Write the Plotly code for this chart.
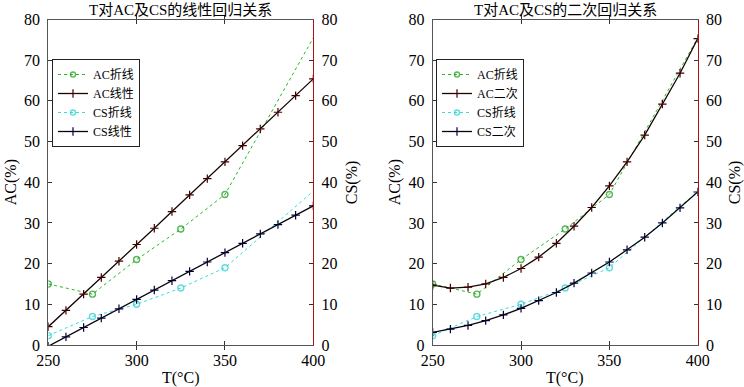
import plotly.graph_objects as go

# ---- data ----
T_obs = [250, 275, 300, 325, 350, 400]
AC_obs = [15.0, 12.5, 21.0, 28.5, 37.0, 75.5]
CS_obs = [2.3, 7.0, 10.0, 14.0, 19.0, 37.8]

T_fit = [250, 260, 270, 280, 290, 300, 310, 320, 330, 340, 350, 360, 370, 380, 390, 400]
AC_lin = [4.5, 8.5, 12.5, 16.6, 20.6, 24.7, 28.7, 32.8, 36.9, 40.9, 45.0, 49.0, 53.1, 57.2, 61.3, 65.4]
CS_lin = [-0.3, 2.0, 4.3, 6.6, 8.9, 11.2, 13.5, 15.8, 18.1, 20.4, 22.7, 25.0, 27.3, 29.6, 31.9, 34.2]
AC_quad = [14.7, 14.0, 14.2, 15.0, 16.6, 18.8, 21.6, 25.0, 29.2, 33.8, 39.1, 45.0, 51.6, 59.2, 66.8, 75.3]
CS_quad = [3.1, 3.9, 4.8, 6.0, 7.4, 9.0, 10.9, 12.9, 15.2, 17.7, 20.4, 23.4, 26.5, 30.0, 33.7, 37.6]

titles = ["T对AC及CS的线性回归关系", "T对AC及CS的二次回归关系"]
legend_names = [["AC折线", "AC线性", "CS折线", "CS线性"],
                ["AC折线", "AC二次", "CS折线", "CS二次"]]
x_ticks = [250, 300, 350, 400]
y_ticks = [0, 10, 20, 30, 40, 50, 60, 70, 80]

FONT = "Liberation Serif, Times New Roman, Noto Sans CJK SC, serif"
W, H = 744, 387

fig = go.Figure()

x_px = [(48.3, 313.3), (432.7, 697.7)]
y_bot, y_top = 345.0, 19.5
ydom = [1 - y_bot / H, 1 - y_top / H]

fits = [(AC_lin, CS_lin), (AC_quad, CS_quad)]
obs_marker_sizes = [6, 6, 6, 6, 6, 0]

for i in range(2):
    xa = "x" if i == 0 else "x2"
    ya = "y" if i == 0 else "y3"
    leg = "legend" if i == 0 else "legend2"
    names = legend_names[i]
    ac_fit, cs_fit = fits[i]
    fig.add_trace(go.Scatter(x=T_obs, y=AC_obs, xaxis=xa, yaxis=ya, legend=leg,
                             name=names[0], mode="lines+markers",
                             line=dict(color="#22bb22", dash="dot", width=1),
                             marker=dict(symbol="circle-open", size=obs_marker_sizes,
                                         color="#119911", line=dict(width=1.4))))
    fig.add_trace(go.Scatter(x=T_fit, y=ac_fit, xaxis=xa, yaxis=ya, legend=leg,
                             name=names[1], mode="lines+markers",
                             line=dict(color="#1a0505", width=1.3),
                             marker=dict(symbol="cross-thin", size=6,
                                         line=dict(width=1.2, color="#400000"))))
    fig.add_trace(go.Scatter(x=T_obs, y=CS_obs, xaxis=xa, yaxis=ya, legend=leg,
                             name=names[2], mode="lines+markers",
                             line=dict(color="#33dddd", dash="dot", width=1),
                             marker=dict(symbol="circle-open", size=obs_marker_sizes,
                                         color="#22cccc", line=dict(width=1.4))))
    fig.add_trace(go.Scatter(x=T_fit, y=cs_fit, xaxis=xa, yaxis=ya, legend=leg,
                             name=names[3], mode="lines+markers",
                             line=dict(color="#050510", width=1.3),
                             marker=dict(symbol="cross-thin", size=6,
                                         line=dict(width=1.2, color="#000030"))))

axis_common = dict(showgrid=False, zeroline=False, ticks="inside", ticklen=4,
                   tickcolor="#333", showline=True, linecolor="#555", linewidth=1,
                   automargin=False,
                   tickfont=dict(family=FONT, size=16, color="black"))

for i in range(2):
    xd = [x_px[i][0] / W, x_px[i][1] / W]
    xkey = "xaxis" if i == 0 else "xaxis2"
    ykey = "yaxis" if i == 0 else "yaxis3"
    yrkey = "yaxis2" if i == 0 else "yaxis4"
    xa = "x" if i == 0 else "x2"
    ya = "y" if i == 0 else "y3"
    fig.layout[xkey] = dict(domain=xd, range=[250, 400], tickvals=x_ticks,
                            mirror="allticks", anchor=ya, ticklabelstandoff=1,
                            **axis_common)
    fig.layout[ykey] = dict(domain=ydom, range=[0, 80], tickvals=y_ticks,
                            anchor=xa, ticklabelstandoff=4, **axis_common)
    rc = dict(axis_common)
    rc["linecolor"] = "#b01010"
    fig.layout[yrkey] = dict(domain=ydom, range=[0, 80], tickvals=y_ticks,
                             overlaying=ya, side="right", anchor=xa,
                             ticklabelstandoff=4, **rc)

fig.add_trace(go.Scatter(x=[None], y=[None], xaxis="x", yaxis="y2", showlegend=False))
fig.add_trace(go.Scatter(x=[None], y=[None], xaxis="x2", yaxis="y4", showlegend=False))

legend_common = dict(bgcolor="white", bordercolor="#222", borderwidth=1,
                     font=dict(family=FONT, size=12, color="black"),
                     xanchor="left", yanchor="top", tracegroupgap=0,
                     itemwidth=30)
fig.layout.legend = dict(x=52 / W, y=1 - 59 / H, **legend_common)
fig.layout.legend2 = dict(x=436 / W, y=1 - 59 / H, **legend_common)

ann = []
centers = [(x_px[i][0] + x_px[i][1]) / 2 for i in range(2)]
for i in range(2):
    ann.append(dict(text=titles[i], x=centers[i] / W, y=1 - 10 / H, xref="paper", yref="paper",
                    xanchor="center", yanchor="middle", showarrow=False,
                    font=dict(family=FONT, size=15, color="black")))
    ann.append(dict(text="T(°C)", x=centers[i] / W, y=1 - 378 / H, xref="paper", yref="paper",
                    xanchor="center", yanchor="middle", showarrow=False,
                    font=dict(family=FONT, size=16, color="black")))
ymid = 1 - ((y_bot + y_top) / 2) / H
for xpos, txt in [(11, "AC(%)"), (352, "CS(%)"), (395, "AC(%)"), (735, "CS(%)")]:
    ann.append(dict(text=txt, x=xpos / W, y=ymid, xref="paper", yref="paper",
                    xanchor="center", yanchor="middle", showarrow=False, textangle=-90,
                    font=dict(family=FONT, size=16, color="black")))
fig.layout.annotations = ann

fig.update_layout(width=W, height=H, margin=dict(l=0, r=0, t=0, b=0, autoexpand=False),
                  paper_bgcolor="white", plot_bgcolor="white", showlegend=True)

fig.write_html("out.html", config={"displayModeBar": False},
               post_script="document.body.style.margin='0px';document.body.style.padding='0px';")
